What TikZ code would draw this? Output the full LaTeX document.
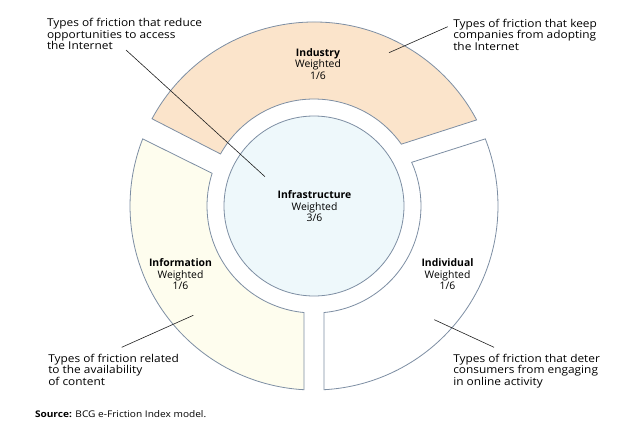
\documentclass[tikz,border=0pt]{standalone}
\usepackage{fontspec}
\setmainfont{Open Sans}
\newfontfamily\notefont{Open Sans}[FakeStretch=1.1]
\definecolor{ringline}{RGB}{125,142,163}
\definecolor{peach}{RGB}{251,228,203}
\definecolor{cream}{RGB}{254,253,238}
\definecolor{iceblue}{RGB}{238,248,251}
\definecolor{leadline}{RGB}{30,30,30}
\tikzstyle{base}=[x=1pt, y=1pt, inner sep=0pt, outer sep=0pt]
\tikzstyle{segment}=[ringline, line width=0.8pt]
\tikzstyle{segtext}=[align=center, anchor=north, font=\fontsize{10.4}{11.3}\selectfont]
\tikzstyle{notetext}=[align=left, anchor=north west, font=\notefont\fontsize{10.8}{11.6}\selectfont]
\tikzstyle{leader}=[leadline, line width=0.6pt]

\begin{document}
\begin{tikzpicture}[base]
    \path [use as bounding box] (0,0) rectangle (640,-426);
    % the ring, round its centre
    \begin{scope}[shift={(314,-206)}]
        \draw [segment, fill=peach] (151.7:184) arc [start angle=151.7, end angle=27.9, radius=184]
            -- (35.3:107) arc [start angle=35.3, end angle=150.9, radius=107] -- cycle;
        \draw [segment, fill=cream] (158.6:184) arc [start angle=158.6, end angle=266.9, radius=184]
            -- (264.6:107) arc [start angle=264.6, end angle=162.2, radius=107] -- cycle;
        \draw [segment, fill=white] (21.4:184) arc [start angle=21.4, end angle=-86.9, radius=184]
            -- (-84.6:107) arc [start angle=-84.6, end angle=24.1, radius=107] -- cycle;
        \draw [segment, fill=iceblue] (0,0) circle (90);
    \end{scope}
    % names of the parts
    \node [segtext] (industry) at (318,-48.5) {\textbf{Industry}\\Weighted\\1/6};
    \node [segtext] (infrastructure) at (314.5,-191) {\textbf{Infrastructure}\\Weighted\\3/6};
    \node [segtext] (information) at (180.5,-259) {\textbf{Information}\\Weighted\\1/6};
    \node [segtext] (individual) at (447.5,-259) {\textbf{Individual}\\Weighted\\1/6};
    % notes
    \node [notetext] (reduce) at (47,-18.5) {Types of friction that reduce\\opportunities to access\\the Internet};
    \node [notetext] (keep) at (453.3,-19) {Types of friction that keep\\companies from adopting\\the Internet};
    \node [notetext] (related) at (48.3,-354) {Types of friction related\\to the availability\\of content};
    \node [notetext] (deter) at (453.3,-354) {Types of friction that deter\\consumers from engaging\\in online activity};
    \node [anchor=base west, font=\notefont\fontsize{9.2}{11}\selectfont] (source) at (35,-417.3) {\textbf{Source:} BCG e-Friction Index model.};
    % leader lines
    \coordinate (reducestart) at (126,-50);
    \coordinate (reducetip) at (265,-176.7);
    \coordinate (keepstart) at (447.7,-26.7);
    \coordinate (keeptip) at (389,-52.7);
    \coordinate (relatedstart) at (121.7,-347.3);
    \coordinate (relatedtip) at (193.3,-315.3);
    \coordinate (deterstart) at (494,-347.3);
    \coordinate (detertip) at (434.3,-319.7);
    \draw [leader] (reducestart) -- (reducetip);
    \draw [leader] (keepstart) -- (keeptip);
    \draw [leader] (relatedstart) -- (relatedtip);
    \draw [leader] (deterstart) -- (detertip);
\end{tikzpicture}
\end{document}
